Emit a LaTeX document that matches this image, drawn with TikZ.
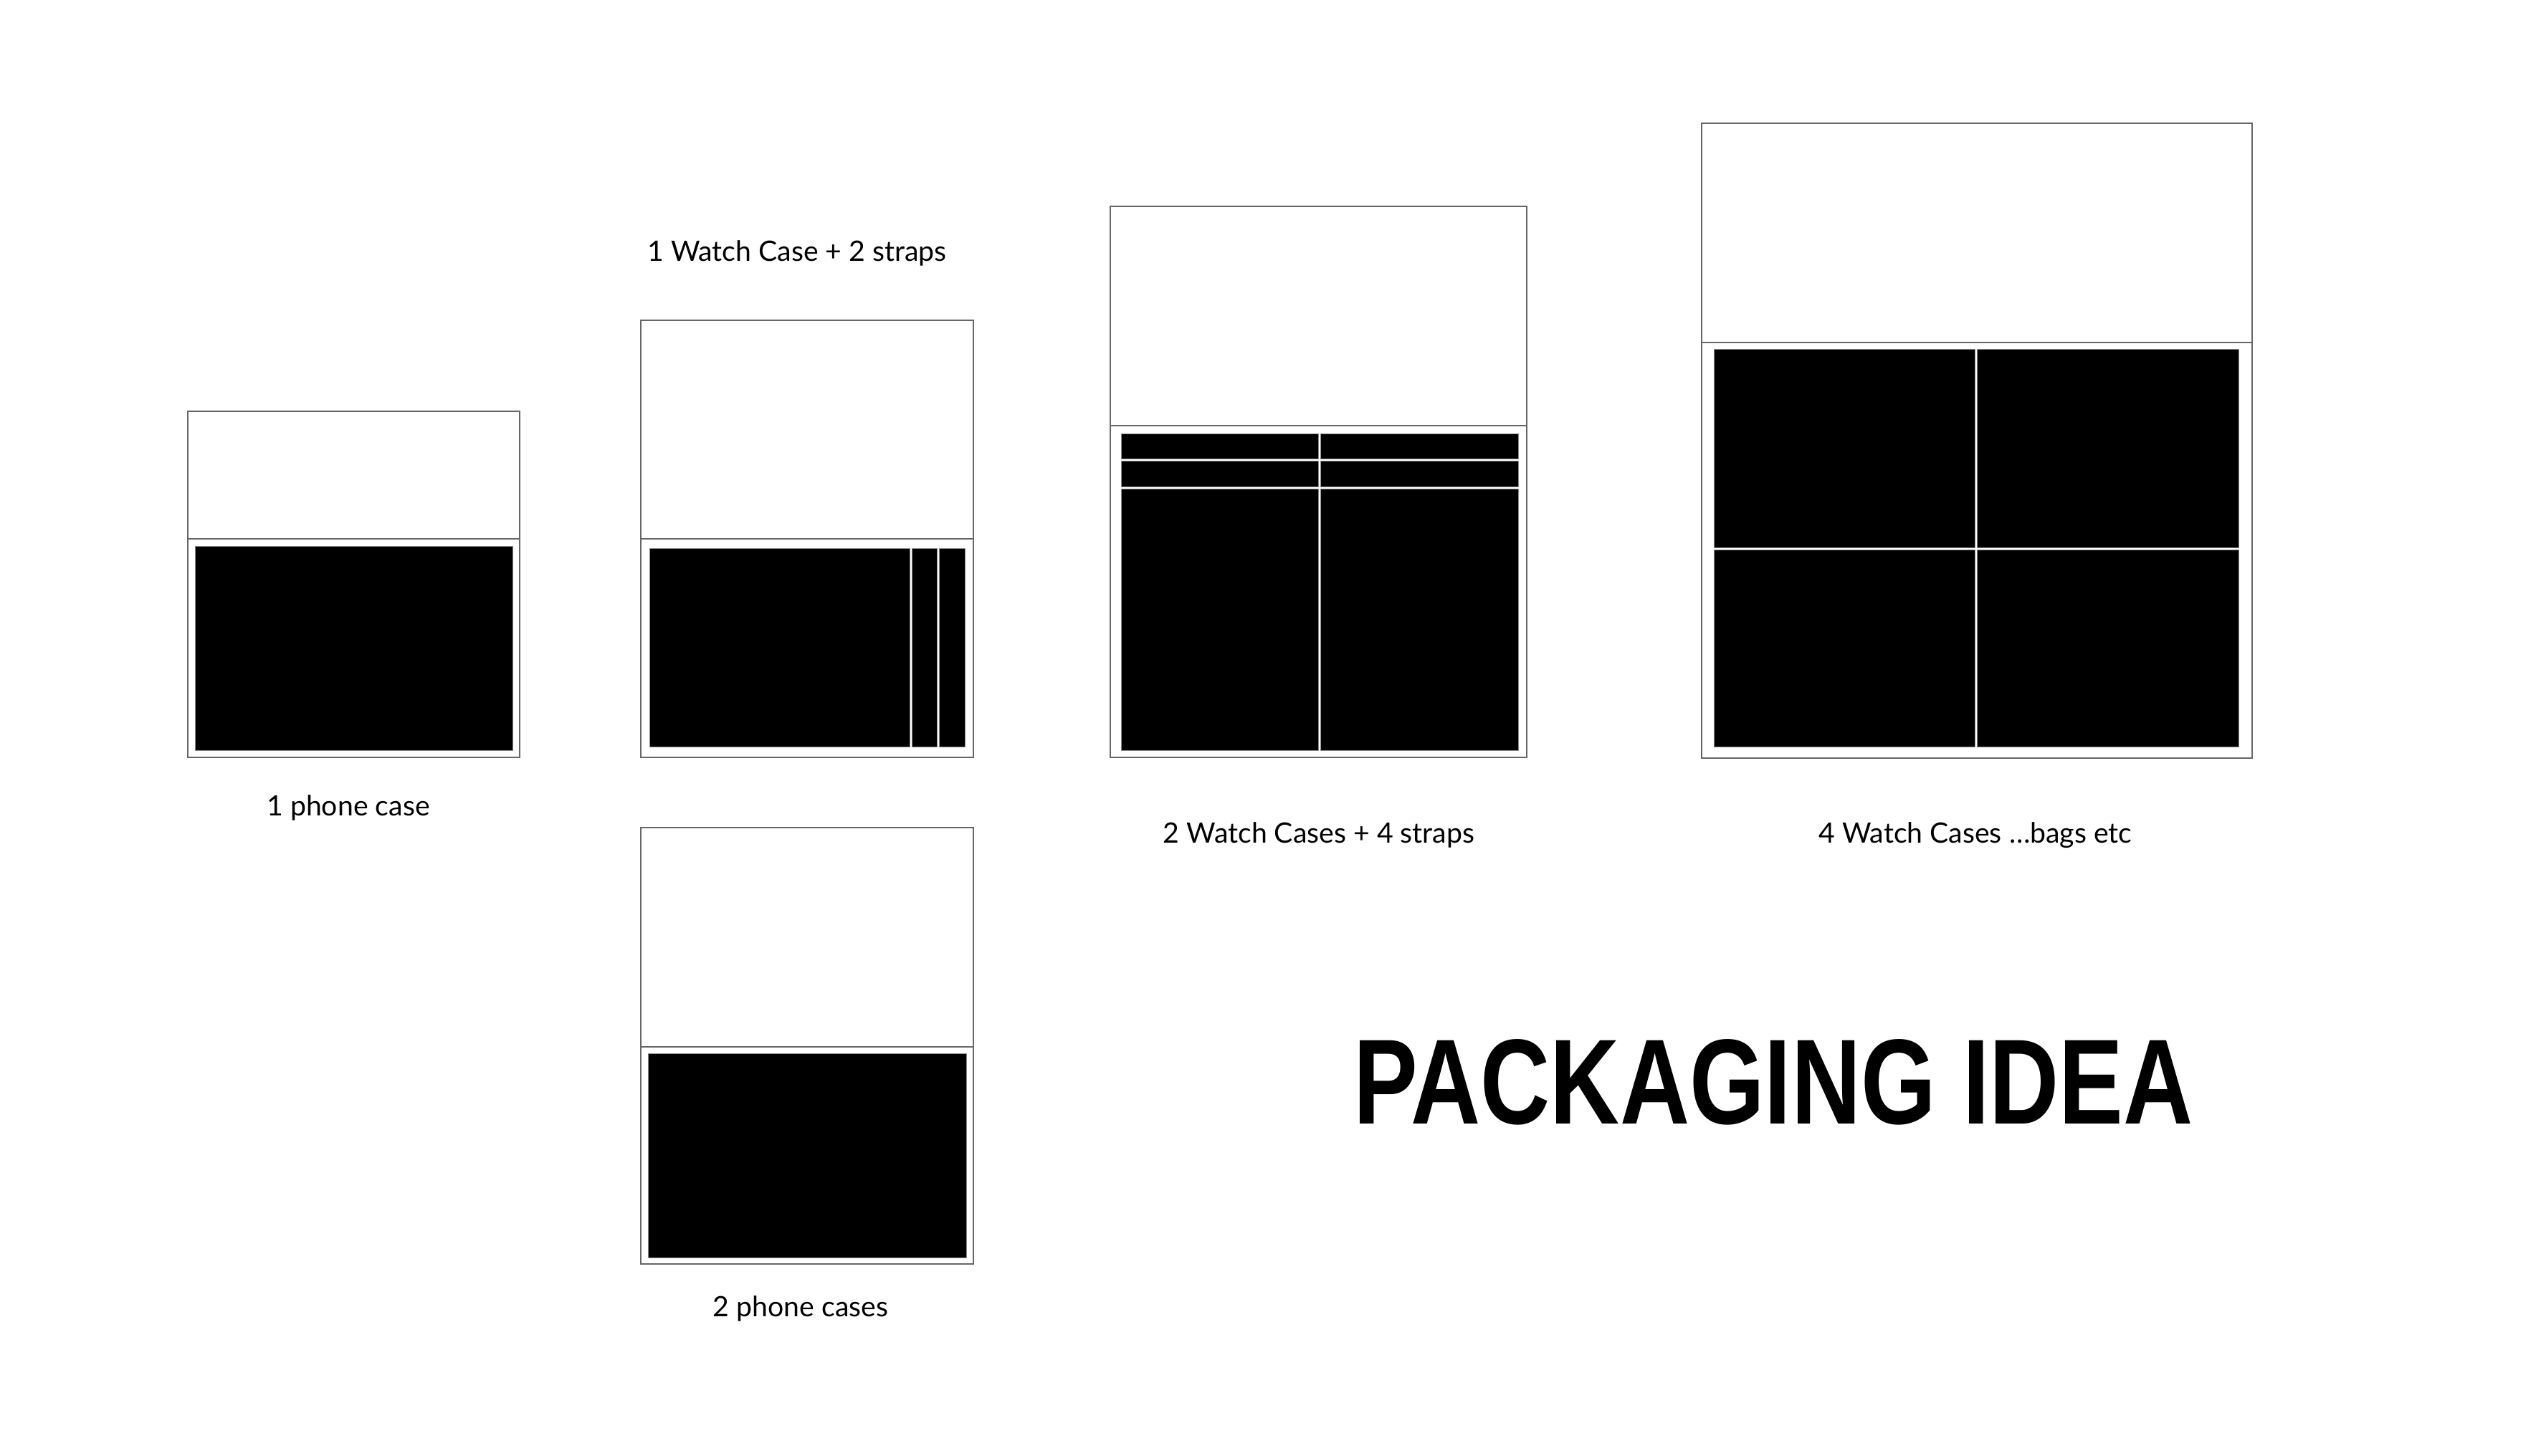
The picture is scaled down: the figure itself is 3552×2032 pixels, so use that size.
\documentclass[tikz,border=0pt]{standalone}
\usepackage{fontspec}
\setmainfont{Lato}
\newfontfamily\titlefont{Liberation Sans}
\newlength\pxu
\setlength\pxu{0.25pt}
\begin{document}
\begin{tikzpicture}[x=0.25pt,y=-0.25pt,
  boxline/.style={draw=black!60, line width=0.5pt},
  cell/.style={fill=black, draw=black!45, line width=0.25pt},
  lbl/.style={anchor=base, inner sep=0pt, font=\fontsize{9.8pt}{12pt}\selectfont}]
\path[use as bounding box, fill=white] (0,0) rectangle (3552,2032);

% Box A : 1 phone case
\draw[boxline] (262,574) rectangle (725,1057);
\draw[boxline] (262,752) -- (725,752);
\draw[cell] (272,762) rectangle (715,1047);

% Box B : 1 watch case + 2 straps
\draw[boxline] (894,447) rectangle (1358,1057);
\draw[boxline] (894,752) -- (1358,752);
\draw[cell] (906,765) rectangle (1269,1042);
\draw[cell] (1272,765) rectangle (1307,1042);
\draw[cell] (1310,765) rectangle (1346,1042);

% Box C : 2 phone cases
\draw[boxline] (894,1155) rectangle (1358,1764);
\draw[boxline] (894,1461) -- (1358,1461);
\draw[cell] (904,1470) rectangle (1348,1755);

% Box D : 2 watch cases + 4 straps
\draw[boxline] (1549,288) rectangle (2130,1057);
\draw[boxline] (1549,594) -- (2130,594);
\draw[cell] (1564,605) rectangle (1839,640);
\draw[cell] (1842,605) rectangle (2118,640);
\draw[cell] (1564,643) rectangle (1839,679);
\draw[cell] (1842,643) rectangle (2118,679);
\draw[cell] (1564,682) rectangle (1839,1047);
\draw[cell] (1842,682) rectangle (2118,1047);

% Box E : 4 watch cases
\draw[boxline] (2374,172) rectangle (3142,1058);
\draw[boxline] (2374,478) -- (3142,478);
\draw[cell] (2391,488) rectangle (2755,764);
\draw[cell] (2758,488) rectangle (3123,764);
\draw[cell] (2391,767) rectangle (2755,1042);
\draw[cell] (2758,767) rectangle (3123,1042);

% labels
\node[lbl] (la) at (486,1138) {1 phone case};
\node[lbl] (lb) at (1112,365) {1 Watch Case + 2 straps};
\node[lbl] (lc) at (1117,1837) {2 phone cases};
\node[lbl] (ld) at (1840,1176) {2 Watch Cases + 4 straps};
\node[lbl] (le) at (2756,1176) {4 Watch Cases …bags etc};

% title
\node[anchor=base west, inner sep=0pt] (title) at (1888,1568)
  {\resizebox{1171\pxu}{118\pxu}{\titlefont\bfseries PACKAGING IDEA}};
\end{tikzpicture}
\end{document}
